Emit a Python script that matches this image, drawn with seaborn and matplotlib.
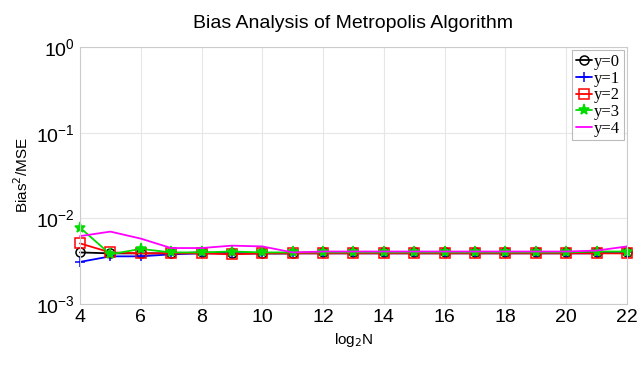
import numpy as np
import pandas as pd
import seaborn as sns
import matplotlib.pyplot as plt
from matplotlib.ticker import LogLocator, NullFormatter

# data
log2N = list(range(4, 23))
y0 = [0.0040, 0.0039, 0.0039, 0.0039, 0.0040, 0.0039, 0.0039, 0.0039, 0.0040, 0.0040,
      0.0040, 0.0040, 0.0040, 0.0040, 0.0040, 0.0040, 0.0040, 0.0040, 0.0040]
y1 = [0.0031, 0.0036, 0.0036, 0.0038, 0.0039, 0.0039, 0.0039, 0.0039, 0.0039, 0.0039,
      0.0039, 0.0039, 0.0039, 0.0039, 0.0039, 0.0039, 0.0039, 0.0039, 0.0040]
y2 = [0.0051, 0.0040, 0.0039, 0.0039, 0.0039, 0.0038, 0.0039, 0.0039, 0.0039, 0.0039,
      0.0039, 0.0039, 0.0039, 0.0039, 0.0039, 0.0039, 0.0039, 0.0039, 0.0039]
y3 = [0.0078, 0.0038, 0.0044, 0.0040, 0.0040, 0.0041, 0.0040, 0.0040, 0.0040, 0.0040,
      0.0040, 0.0040, 0.0040, 0.0040, 0.0040, 0.0040, 0.0040, 0.0041, 0.0041]
y4 = [0.0062, 0.0070, 0.0058, 0.0045, 0.0045, 0.0048, 0.0047, 0.0040, 0.0041, 0.0041,
      0.0041, 0.0041, 0.0041, 0.0041, 0.0041, 0.0041, 0.0041, 0.0042, 0.0047]

series = {"y=0": y0, "y=1": y1, "y=2": y2, "y=3": y3, "y=4": y4}
colors = ["black", "blue", "red", "#00dd00", "magenta"]
markers = ["o", "+", "s", "*", "None"]

sns.set_style("white")
plt.rcParams["font.family"] = ["Liberation Sans", "DejaVu Sans"]
plt.rcParams["text.color"] = "black"
plt.rcParams["axes.labelcolor"] = "black"
plt.rcParams["xtick.color"] = "black"
plt.rcParams["ytick.color"] = "black"

fig = plt.figure(figsize=(6.43, 3.81), dpi=100)
ax = fig.add_axes([0.1244, 0.2021, 0.8506, 0.6745])

for (name, vals), c, m in zip(series.items(), colors, markers):
    df = pd.DataFrame({"x": log2N, "v": vals})
    sns.lineplot(data=df, x="x", y="v", ax=ax, color=c, linewidth=1.3, label=name)
    ln = ax.lines[-1]
    ln.set_linestyle("-")
    ln.set_marker(m)
    ln.set_markeredgecolor(c)
    ln.set_markeredgewidth(1.1)
    ln.set_markersize(6.5)
    ln.set_clip_on(False)
    if m in ("o", "s"):
        ln.set_markerfacecolor("none")
    elif m == "*":
        ln.set_markerfacecolor(c)
        ln.set_markersize(8)

ax.set_yscale("log")
ax.set_xlim(4, 22)
ax.set_ylim(1e-3, 1)
ax.set_xticks(range(4, 23, 2))
ax.yaxis.set_major_locator(LogLocator(base=10, numticks=10))
ax.yaxis.set_minor_locator(LogLocator(base=10, subs=np.arange(2, 10), numticks=10))
ax.yaxis.set_minor_formatter(NullFormatter())
ax.grid(True, which="major", color="#e6e6e6", linewidth=0.8)
ax.tick_params(axis="both", which="major", direction="in", length=4,
               color="#999999", labelsize=14)
ax.tick_params(axis="y", which="minor", direction="in", length=2, color="#bbbbbb")
for s in ax.spines.values():
    s.set_color("#cccccc")
    s.set_linewidth(0.8)

ax.set_title("Bias Analysis of Metropolis Algorithm", fontsize=14, pad=14)
ax.set_xlabel("log$_2$N", fontsize=11)
ax.set_ylabel("Bias$^2$/MSE", fontsize=11)

leg = ax.legend(loc="upper right", prop={"family": "Liberation Serif", "size": 12},
                handlelength=1.0, handletextpad=0.1, labelspacing=0.05,
                borderpad=0.2, borderaxespad=0.2, fancybox=False, frameon=True)
leg.get_frame().set_edgecolor("#aaaaaa")
leg.get_frame().set_linewidth(0.8)

fig.savefig("out.png", dpi=100)
